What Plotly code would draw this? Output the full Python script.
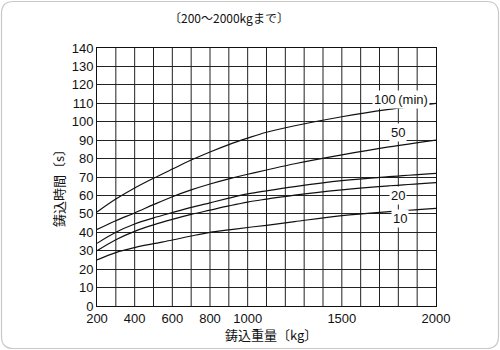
import plotly.graph_objects as go

weight = [200, 300, 400, 500, 600, 700, 800, 900, 1000, 1100, 1250, 1500, 1750, 2000]
t100 = [51, 58, 64, 69.3, 74.3, 79.2, 83.6, 87.6, 91.1, 94.3, 97.8, 102.7, 106.7, 110]
t50 = [41.5, 46.3, 50.5, 55, 59.3, 63, 66.2, 69, 71.5, 73.8, 77.2, 82, 86.3, 90]
t30 = [34, 40, 44.5, 47.8, 50.7, 53.5, 56, 58.5, 60.8, 62.5, 64.8, 68, 70.2, 72]
t20 = [30, 36, 40.5, 44, 47, 49.7, 52, 54.3, 56.4, 58, 60.2, 63, 65.2, 67]
t10 = [25, 29, 31.7, 33.8, 35.8, 38, 40, 41.3, 42.6, 43.8, 45.8, 49, 51.2, 53]

x_ticks = [200, 400, 600, 800, 1000, 1500, 2000]
y_ticks = list(range(0, 141, 10))

labels = [("100\u2009(min)", 1815, 111.8), ("50", 1800, 93.9), ("20", 1800, 60.2), ("10", 1810, 47.7)]

L, R, T, B = 97, 64, 48, 44
W, H = 500, 350
pw, ph = W - L - R, H - T - B

fig = go.Figure()
for ys in [t100, t50, t30, t20, t10]:
    fig.add_trace(go.Scatter(x=weight, y=ys, mode="lines",
                             line=dict(color="#111", width=1.2, shape="spline", smoothing=1.0),
                             hoverinfo="skip", showlegend=False))

for txt, xv, yv in labels:
    fig.add_annotation(x=xv, y=yv, text=txt, showarrow=False, bgcolor="white",
                       xanchor="center", yanchor="middle",
                       borderpad=1, font=dict(family="Liberation Sans, Arial", size=13, color="#111"))

def px2paper(px, py):
    return (px - L) / pw, (H - B - py) / ph

# rounded outer border
x0, y0, x1, y1, r = 1.5, 1.5, 498.5, 348.5, 12
def P(px, py):
    a, b = px2paper(px, py)
    return f"{a:.5f},{b:.5f}"
path = (f"M {P(x0 + r, y0)} L {P(x1 - r, y0)} Q {P(x1, y0)} {P(x1, y0 + r)} "
        f"L {P(x1, y1 - r)} Q {P(x1, y1)} {P(x1 - r, y1)} "
        f"L {P(x0 + r, y1)} Q {P(x0, y1)} {P(x0, y1 - r)} "
        f"L {P(x0, y0 + r)} Q {P(x0, y0)} {P(x0 + r, y0)} Z")
fig.add_shape(type="path", path=path, xref="paper", yref="paper",
              line=dict(color="#c8c8c8", width=1.2), layer="below")

def text_at(px, py, txt, size, angle=0):
    cx, cy = px2paper(px, py)
    fig.add_annotation(x=cx, y=cy, xref="paper", yref="paper", text=txt, textangle=angle,
                       xanchor="center", yanchor="middle", showarrow=False,
                       font=dict(family="Noto Sans CJK JP", size=size, color="#111"))

text_at(229, 17, "〔200～2000kgまで〕", 12)
text_at(271, 334, "鋳込重量〔kg〕", 13)
text_at(58, 185, "鋳込時間〔s〕", 13, -90)

fig.update_xaxes(range=[200, 2000], tickvals=x_ticks, ticktext=[str(v) for v in x_ticks],
                 showgrid=False, showline=True, mirror=True, linecolor="#111", linewidth=1,
                 ticks="", ticklabelstandoff=0, zeroline=False,
                 tickfont=dict(family="Liberation Sans, Arial", size=13, color="#111"))
fig.update_yaxes(range=[0, 140], tickvals=y_ticks, showgrid=True, gridcolor="#222", gridwidth=1,
                 showline=True, mirror=True, linecolor="#111", linewidth=1, ticks="", zeroline=False,
                 tickfont=dict(family="Liberation Sans, Arial", size=13, color="#111"))
for xv in range(300, 2000, 100):
    fig.add_vline(x=xv, line=dict(color="#222", width=1), layer="below")

fig.update_layout(width=W, height=H, margin=dict(l=L, r=R, t=T, b=B),
                  paper_bgcolor="white", plot_bgcolor="white")
fig.write_html("out.html")
